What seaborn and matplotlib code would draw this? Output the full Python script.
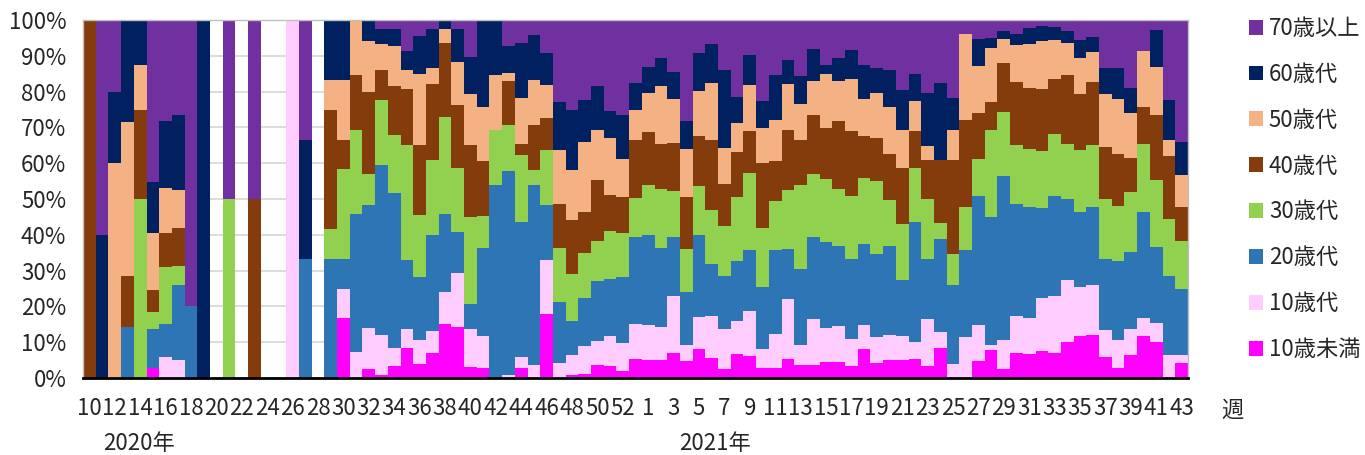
import numpy as np
import pandas as pd
import matplotlib
matplotlib.use('Agg')
import matplotlib.pyplot as plt
import seaborn as sns
from matplotlib.patches import Patch

# week categories: 2020 w10..w53, 2021 w1..w43
weeks_2020 = list(range(10, 54))
weeks_2021 = list(range(1, 44))
week_labels = [str(w) for w in weeks_2020 + weeks_2021]

# share (%) of each age group per week
u10 = [0, 0, 0, 0, 0, 2.8, 0, 0, 0, 0,
       0, 0, 0, 0, 0, 0, 0, 0, 0, 0,
       16.7, 0, 2.4, 0.9, 3.4, 8.4, 3.8, 7.1, 15.2, 14.3,
       3.1, 2.8, 0, 0, 2.8, 0, 17.9, 0, 0.9, 1.2,
       3.6, 3.3, 1.9, 5.4, 5.1, 5.1, 7.1, 4.7, 8.0, 5.6,
       2.6, 6.8, 6.1, 2.8, 2.8, 5.4, 3.6, 3.7, 4.5, 4.5,
       3.4, 8.2, 4.2, 5.0, 5.1, 5.4, 3.4, 8.4, 0, 0,
       4.7, 7.8, 2.6, 7.1, 6.8, 7.6, 7.1, 10.1, 11.8, 12.1,
       5.9, 2.8, 6.4, 11.7, 10.1, 0, 4.2]
teens = [0, 0, 0, 0, 0, 0, 5.9, 5.0, 0, 0,
         0, 0, 0, 0, 0, 0, 100, 0, 0, 0,
         8.3, 7.3, 11.6, 11.2, 5.0, 5.4, 6.8, 6.0, 8.9, 15.0,
         10.5, 9.0, 0, 0.7, 3.1, 3.7, 15.1, 4.3, 5.5, 7.8,
         6.7, 8.5, 8.0, 9.6, 9.7, 9.2, 15.8, 4.6, 8.9, 11.7,
         11.0, 9.1, 12.7, 5.4, 9.6, 16.6, 5.7, 12.9, 9.6, 10.1,
         7.4, 6.6, 7.3, 7.1, 6.7, 4.7, 13.0, 4.5, 4.0, 11.5,
         10.1, 1.5, 8.0, 10.2, 10.0, 14.8, 15.8, 17.3, 13.5, 13.9,
         7.5, 7.8, 7.2, 5.1, 5.4, 6.4, 2.2]
twenties = [0, 0, 0, 14.3, 0, 11.0, 9.3, 21.0, 20.0, 0,
            0, 0, 0, 0, 0, 0, 0, 33.3, 0, 33.3,
            8.3, 38.6, 34.4, 47.5, 43.3, 19.2, 17.5, 26.9, 21.8, 11.4,
            7.0, 24.5, 53.8, 57.1, 37.7, 50.3, 15.4, 17.0, 9.5, 13.4,
            16.9, 15.8, 18.4, 24.5, 25.2, 22.0, 16.4, 14.8, 23.1, 14.5,
            14.9, 16.8, 17.0, 17.3, 23.4, 14.1, 21.2, 22.9, 24.0, 22.4,
            22.4, 22.7, 23.1, 24.9, 15.6, 33.5, 16.8, 26.0, 22.0, 24.3,
            35.9, 35.6, 45.8, 31.3, 31.1, 25.1, 27.8, 22.6, 21.1, 21.7,
            19.9, 22.2, 21.7, 29.5, 21.2, 22.2, 18.4]
thirties = [0, 0, 0, 0, 50, 4.7, 15.7, 5.4, 0, 0,
            0, 50, 0, 0, 0, 0, 0, 0, 0, 8.3,
            25.0, 23.3, 8.6, 18.1, 16.2, 32.0, 17.5, 21.0, 27.1, 18.0,
            24.3, 9.0, 15.4, 12.8, 18.8, 4.2, 15.2, 15.0, 13.2, 12.5,
            11.2, 13.5, 12.2, 10.8, 13.8, 16.5, 13.0, 12.0, 13.6, 15.0,
            14.0, 17.8, 21.5, 16.4, 13.7, 16.3, 23.5, 17.6, 17.5, 15.9,
            17.5, 18.4, 20.4, 12.8, 15.6, 15.1, 16.8, 4.4, 8.7, 12.1,
            10.6, 24.5, 17.9, 16.6, 16.1, 15.9, 17.5, 15.4, 17.4, 17.3,
            16.8, 15.3, 16.7, 19.1, 18.5, 15.8, 13.6]
forties = [100, 0, 0, 14.3, 25, 6.1, 9.6, 10.5, 0, 0,
           0, 0, 0, 50, 0, 0, 0, 0, 0, 33.3,
           8.3, 15.4, 23.0, 8.3, 13.7, 15.7, 19.4, 21.0, 20.7, 17.6,
           20.3, 15.3, 0, 12.4, 3.0, 12.4, 8.9, 12.4, 15.1, 11.6,
           17.0, 10.1, 10.1, 16.1, 14.9, 12.6, 13.4, 14.4, 13.9, 19.8,
           11.8, 12.6, 11.7, 18.2, 11.1, 17.0, 12.6, 16.5, 14.3, 18.9,
           18.3, 11.7, 11.9, 12.8, 15.7, 10.3, 10.8, 17.5, 26.1, 24.1,
           12.8, 7.8, 13.6, 17.6, 17.1, 17.3, 15.3, 19.2, 15.5, 17.7,
           14.4, 14.5, 9.5, 10.3, 18.4, 17.7, 9.3]
fifties = [0, 0, 60, 42.9, 12.5, 15.9, 12.6, 10.7, 0, 0,
           0, 0, 0, 0, 0, 0, 0, 0, 0, 8.3,
           16.7, 15.4, 14.2, 7.3, 11.2, 5.3, 19.9, 4.7, 3.8, 12.0,
           14.1, 15.1, 15.4, 2.3, 12.9, 12.7, 9.4, 14.9, 14.0, 19.4,
           13.9, 15.7, 10.7, 8.5, 10.8, 16.2, 12.2, 13.6, 12.7, 15.7,
           10.0, 8.0, 12.9, 9.8, 11.4, 12.8, 9.8, 9.4, 15.0, 11.2,
           14.6, 10.3, 12.6, 13.1, 10.5, 8.4, 4.0, 0, 8.6, 24.1,
           13.1, 14.9, 6.8, 10.2, 12.2, 13.5, 10.9, 8.9, 10.2, 8.5,
           14.9, 15.2, 12.4, 15.7, 13.3, 4.5, 8.9]
sixties = [0, 40, 20, 28.5, 12.5, 14.2, 18.7, 21.0, 0, 100,
           0, 0, 0, 0, 0, 0, 0, 33.3, 0, 16.8,
           16.7, 0, 5.8, 4.2, 4.7, 5.4, 10.7, 10.8, 2.5, 9.2,
           10.4, 24.3, 15.4, 7.3, 15.4, 12.6, 9.0, 13.6, 16.8, 11.7,
           12.3, 7.7, 12.1, 7.4, 7.4, 7.7, 7.6, 7.7, 10.5, 11.0,
           21.7, 7.5, 8.4, 7.5, 12.6, 6.7, 8.0, 8.9, 2.6, 6.3,
           8.1, 9.5, 7.0, 10.3, 11.3, 7.5, 14.9, 21.7, 8.9, 0,
           7.5, 2.9, 2.3, 3.1, 4.6, 4.2, 3.7, 3.3, 4.9, 4.1,
           7.1, 8.7, 7.1, 0, 10.4, 11.0, 9.3]
seventies = [0, 60, 20, 0, 0, 45.3, 28.2, 26.4, 80, 0,
             0, 50, 0, 50, 0, 0, 0, 33.4, 0, 0,
             0, 0, 0, 2.5, 2.5, 8.6, 4.4, 2.5, 0, 2.5,
             10.3, 0, 0, 7.4, 6.3, 4.1, 9.1, 22.8, 25.0, 22.4,
             18.4, 25.4, 26.6, 17.7, 13.1, 10.7, 14.5, 28.2, 9.3, 6.7,
             14.0, 21.4, 9.7, 22.6, 15.4, 11.1, 15.6, 8.1, 12.5, 10.7,
             8.3, 12.6, 13.5, 14.0, 19.5, 15.1, 20.3, 17.5, 21.7, 3.9,
             5.3, 5.0, 3.0, 3.9, 2.1, 1.6, 1.9, 3.2, 5.6, 4.7,
             13.5, 13.5, 19.0, 8.6, 2.7, 22.4, 34.1]

groups = ['70歳以上', '60歳代', '50歳代', '40歳代', '30歳代', '20歳代', '10歳代', '10歳未満']
series = [seventies, sixties, fifties, forties, thirties, twenties, teens, u10]
colors = ['#7030A0', '#002060', '#F4B183', '#843C0C', '#92D050', '#2E75B6', '#FFCCFF', '#FF00FF']

sns.set_style('white')
plt.rcParams['font.family'] = ['Noto Sans CJK JP', 'DejaVu Sans']

n = len(week_labels)
rows = []
for g, vals in zip(groups, series):
    for i, v in enumerate(vals):
        rows.append({'idx': i, 'age': g, 'pct': v})
df = pd.DataFrame(rows)

fig = plt.figure(figsize=(13.65, 4.55), dpi=100)
ax = fig.add_axes([83 / 1365, 1 - 378 / 455, 1105 / 1365, 358 / 455])

# first hue level ends up on top of the stack
sns.histplot(data=df, x='idx', hue='age', weights='pct', hue_order=groups,
             palette=colors, multiple='stack', discrete=True, shrink=1,
             alpha=1, linewidth=0, legend=False, ax=ax)

ax.set_xlim(-0.5, n - 0.5)
ax.set_ylim(0, 100)
ax.set_yticks(np.arange(0, 101, 10))
ax.set_yticklabels([f'{v}%' for v in range(0, 101, 10)], fontsize=16)
ax.set_axisbelow(True)
ax.yaxis.grid(True, color='#d9d9d9', linewidth=1.3)
ax.tick_params(axis='y', length=0, pad=12)

ax.set_xticks(np.arange(0, n, 2))
ax.set_xticklabels(week_labels[::2], fontsize=16)
ax.set_xticks(np.arange(-0.5, n, 1), minor=True)
ax.tick_params(axis='x', which='major', length=0, pad=14)
ax.tick_params(axis='x', which='minor', length=6, width=1.5, color='black', direction='out')
ax.set_xlabel('')
ax.set_ylabel('')

for side in ['top', 'right', 'left']:
    ax.spines[side].set_color('#bfbfbf')
    ax.spines[side].set_linewidth(1)
ax.spines['bottom'].set_color('black')
ax.spines['bottom'].set_linewidth(2)

fig.text(1232 / 1365, 1 - 410 / 455, '週', fontsize=16, ha='center', va='center')
fig.text(139 / 1365, 1 - 443 / 455, '2020年', fontsize=16, ha='center', va='center')
fig.text(715 / 1365, 1 - 443 / 455, '2021年', fontsize=16, ha='center', va='center')

handles = [Patch(facecolor=c, edgecolor='none') for c in colors]
fig.legend(handles, groups, loc='upper left', bbox_to_anchor=(1240 / 1365, 1 - 8 / 455),
           frameon=False, fontsize=16, handlelength=0.65, handleheight=0.65,
           handletextpad=0.25, labelspacing=1.03, borderaxespad=0)

fig.savefig('out.png', dpi=100)
